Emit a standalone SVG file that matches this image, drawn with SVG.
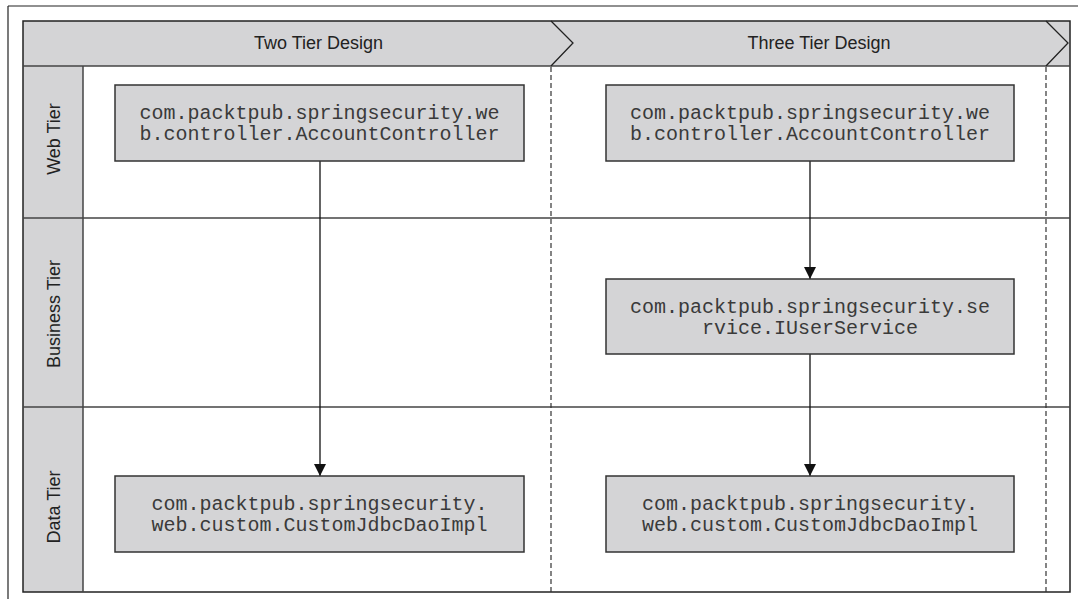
<svg xmlns="http://www.w3.org/2000/svg" width="1078" height="599" viewBox="0 0 1078 599">
<style>
.frame{fill:none;stroke:#222;stroke-width:1.5}
.band{fill:#d4d4d6}
.div{stroke:#444;stroke-width:1.5}
.dash{stroke:#333;stroke-width:1.2;stroke-dasharray:5 3;fill:none}
.box{fill:#d4d4d6;stroke:#333;stroke-width:1.5}
.mono{font-family:"Liberation Mono","Courier New",monospace;font-size:20px;fill:#3a3a3a;text-anchor:middle}
.sans{font-family:"Liberation Sans",Arial,sans-serif;font-size:18px;fill:#222;text-anchor:middle}
.edge{stroke:#111;stroke-width:1.3;fill:none;marker-end:url(#arr)}
</style>
<defs>
<marker id="arr" viewBox="0 0 12 12" refX="12" refY="6" markerWidth="12" markerHeight="12" markerUnits="userSpaceOnUse" orient="auto">
<path d="M0,0 L12,6 L0,12 z" fill="#111"/>
</marker>
</defs>
<rect width="1078" height="599" fill="#fff"/>
<g id="page">
<line x1="8" y1="6" x2="1078" y2="6" stroke="#222" stroke-width="1.2"/>
<line x1="8" y1="6" x2="8" y2="599" stroke="#222" stroke-width="1.2"/>
</g>
<g id="lanes">
<rect class="band" x="23" y="21" width="1047" height="45"/>
<rect class="band" x="23" y="66" width="60" height="526"/>
<rect class="frame" x="23" y="21" width="1047" height="571"/>
<line class="div" x1="23" y1="66" x2="1070" y2="66"/>
<line class="div" x1="83" y1="66" x2="83" y2="592"/>
<line class="div" x1="23" y1="218" x2="1070" y2="218"/>
<line class="div" x1="23" y1="407" x2="1070" y2="407"/>
<polyline points="551,21 573,43 551,66" fill="none" stroke="#222" stroke-width="1.3"/>
<polyline points="1046,21 1068,43 1046,66" fill="none" stroke="#222" stroke-width="1.3"/>
<line class="dash" x1="551" y1="67" x2="551" y2="592"/>
<line class="dash" x1="1046" y1="67" x2="1046" y2="592"/>
<text class="sans" x="318.5" y="49">Two Tier Design</text>
<text class="sans" x="819" y="49">Three Tier Design</text>
<text class="sans" transform="translate(60,139) rotate(-90)">Web Tier</text>
<text class="sans" transform="translate(60,314) rotate(-90)">Business Tier</text>
<text class="sans" transform="translate(60,507) rotate(-90)">Data Tier</text>
</g>
<g id="connectors">
<line class="edge" x1="320" y1="161" x2="320" y2="476"/>
<line class="edge" x1="810" y1="161" x2="810" y2="279"/>
<line class="edge" x1="810" y1="354" x2="810" y2="476"/>
</g>
<g id="web2">
<rect class="box" x="115" y="85" width="409" height="76"/>
<text class="mono" x="319.5" y="119">com.packtpub.springsecurity.we</text>
<text class="mono" x="319.5" y="140">b.controller.AccountController</text>
</g>
<g id="web3">
<rect class="box" x="606" y="85" width="408" height="76"/>
<text class="mono" x="810" y="119">com.packtpub.springsecurity.we</text>
<text class="mono" x="810" y="140">b.controller.AccountController</text>
</g>
<g id="service3">
<rect class="box" x="606" y="279" width="408" height="75"/>
<text class="mono" x="810" y="313">com.packtpub.springsecurity.se</text>
<text class="mono" x="810" y="334">rvice.IUserService</text>
</g>
<g id="data2">
<rect class="box" x="115" y="476" width="409" height="76"/>
<text class="mono" x="319.5" y="510">com.packtpub.springsecurity.</text>
<text class="mono" x="319.5" y="531">web.custom.CustomJdbcDaoImpl</text>
</g>
<g id="data3">
<rect class="box" x="606" y="476" width="408" height="76"/>
<text class="mono" x="810" y="510">com.packtpub.springsecurity.</text>
<text class="mono" x="810" y="531">web.custom.CustomJdbcDaoImpl</text>
</g>
</svg>
